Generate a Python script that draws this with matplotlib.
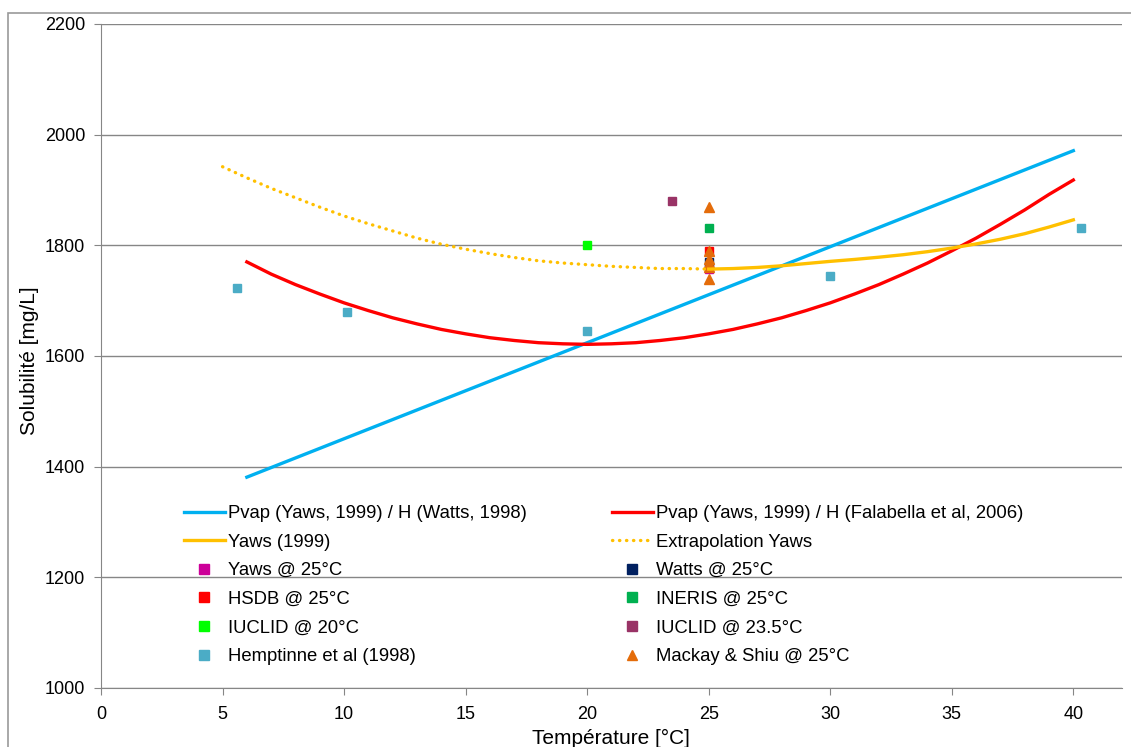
import numpy as np
import matplotlib.pyplot as plt
from matplotlib.patches import Rectangle

plt.rcParams['font.family'] = ['Liberation Sans', 'DejaVu Sans']

# curves
t_watts = [6, 40]
s_watts = [1381, 1971]

t_fala = list(range(6, 41))
s_fala = [1770, 1748, 1729, 1712, 1696, 1682, 1669, 1658, 1648, 1640, 1633, 1628,
          1624, 1622, 1621, 1622, 1624, 1628, 1633, 1640, 1648, 1658, 1669, 1682,
          1696, 1712, 1729, 1748, 1768, 1790, 1813, 1838, 1864, 1892, 1918]

t_yaws = list(range(25, 41))
s_yaws = [1757, 1758, 1760, 1763, 1767, 1771, 1774.5, 1778.5, 1783, 1788.5, 1795,
          1802.5, 1811, 1821, 1833, 1846]

t_extra = list(range(5, 26))
s_extra = [1942, 1922, 1903, 1886, 1869, 1853, 1839, 1826, 1813, 1802, 1793, 1785,
           1778, 1772, 1768, 1765, 1762, 1760, 1758, 1758, 1757]

# individual measurements
yaws25 = ([25], [1757])
watts25 = ([25], [1770])
hsdb25 = ([25], [1790])
ineris25 = ([25], [1831])
iuclid20 = ([20], [1800])
iuclid235 = ([23.5], [1880])
hemptinne = ([5.6, 10.1, 20, 30, 40.3], [1723, 1680, 1646, 1745, 1832])
mackay = ([25, 25, 25, 25, 25, 25], [1870, 1790, 1776, 1768, 1760, 1740])

fig = plt.figure(figsize=(11.31, 7.47), dpi=100)
ax = fig.add_axes([0.0893, 0.079, 0.9027, 0.8889])

# outer chart-area frame (runs off the right and bottom edges)
fig.patches.append(Rectangle((0.0071, -0.2), 1.2, 1.1826, transform=fig.transFigure,
                             facecolor='none', edgecolor='#9a9a9a', lw=1.2))

ms = 6.2
h_yaws25, = ax.plot(*yaws25, 's', color='#CC0099', ms=ms, ls='none')
h_watts25, = ax.plot(*watts25, 's', color='#002060', ms=ms, ls='none')
h_hsdb, = ax.plot(*hsdb25, 's', color='#FF0000', ms=ms, ls='none')
h_ineris, = ax.plot(*ineris25, 's', color='#00B050', ms=ms, ls='none')
h_iu20, = ax.plot(*iuclid20, 's', color='#00FF00', ms=ms, ls='none')
h_iu235, = ax.plot(*iuclid235, 's', color='#993366', ms=ms, ls='none')
h_hemp, = ax.plot(*hemptinne, 's', color='#4BACC6', ms=ms, ls='none')
h_mack, = ax.plot(*mackay, '^', color='#E46C0A', ms=7, ls='none')

h_watts, = ax.plot(t_watts, s_watts, color='#00B0F0', lw=2.4)
h_fala, = ax.plot(t_fala, s_fala, color='#FF0000', lw=2.4)
h_yaws, = ax.plot(t_yaws, s_yaws, color='#FFC000', lw=2.4)
h_extra, = ax.plot(t_extra, s_extra, color='#FFC000', lw=2.4, ls=(0, (0.1, 2.0)),
                   dash_capstyle='round')

ax.set_xlim(0, 42)
ax.set_ylim(1000, 2200)
ax.set_xticks(range(0, 41, 5))
ax.set_yticks(range(1000, 2201, 200))
ax.grid(axis='y', color='#868686', lw=1)
ax.set_axisbelow(True)
for s in ['top', 'right']:
    ax.spines[s].set_visible(False)
for s in ['left', 'bottom']:
    ax.spines[s].set_color('#868686')
ax.tick_params(colors='#868686', labelcolor='black', labelsize=13, length=5)
ax.tick_params(axis='x', pad=8)
ax.tick_params(axis='y', pad=6.5)

fig.text(611 / 1131, 3 / 747, 'Température [°C]', fontsize=15, ha='center', va='baseline')
fig.text(30 / 1131, 1 - 361 / 747, 'Solubilité [mg/L]', fontsize=15, ha='center',
         va='center', rotation=90)

leg_kw = dict(frameon=False, fontsize=13.3, handlelength=2.2, handletextpad=0.2,
              labelspacing=0.63, markerscale=1.1, borderpad=0, borderaxespad=0,
              loc='upper left')
leg1 = ax.legend([h_watts, h_yaws, h_yaws25, h_hsdb, h_iu20, h_hemp],
                 ['Pvap (Yaws, 1999) / H (Watts, 1998)', 'Yaws (1999)', 'Yaws @ 25°C',
                  'HSDB @ 25°C', 'IUCLID @ 20°C', 'Hemptinne et al (1998)'],
                 bbox_to_anchor=(184 / 1131, 1 - 505 / 747), bbox_transform=fig.transFigure,
                 **leg_kw)
ax.add_artist(leg1)
ax.legend([h_fala, h_extra, h_watts25, h_ineris, h_iu235, h_mack],
          ['Pvap (Yaws, 1999) / H (Falabella et al, 2006)', 'Extrapolation Yaws', 'Watts @ 25°C',
           'INERIS @ 25°C', 'IUCLID @ 23.5°C', 'Mackay & Shiu @ 25°C'],
          bbox_to_anchor=(612 / 1131, 1 - 505 / 747), bbox_transform=fig.transFigure,
          **leg_kw)

fig.savefig('out.png', dpi=100)
